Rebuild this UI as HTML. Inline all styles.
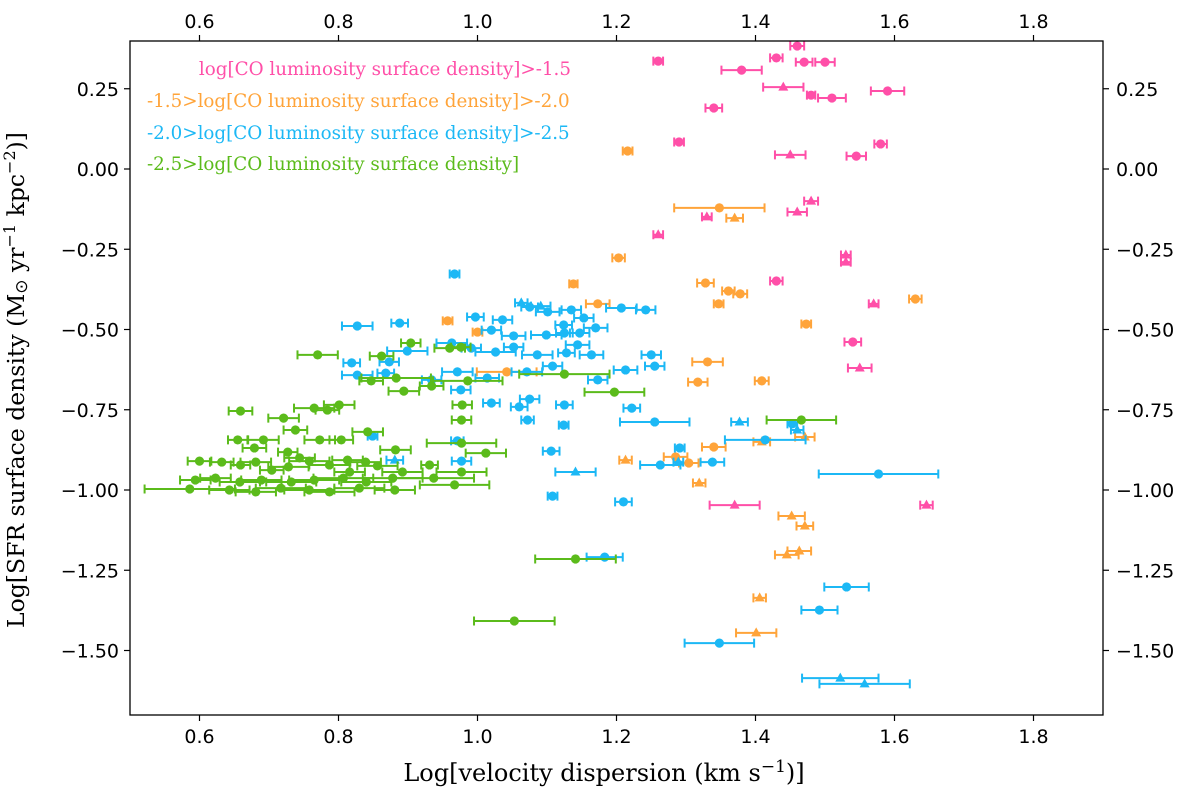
<!DOCTYPE html>
<html><head><meta charset="utf-8">
<style>
html,body{margin:0;padding:0;background:#fff;width:1200px;height:795px;overflow:hidden}
svg{display:block}
text{font-family:"DejaVu Sans","Liberation Sans",sans-serif}
.serif{font-family:"DejaVu Serif","Liberation Serif",serif}
</style></head>
<body>
<svg id="chart" width="1200" height="795" viewBox="0 0 1200 795" xmlns="http://www.w3.org/2000/svg">
<g id="marks"></g>
<rect x="130" y="41" width="973" height="674" fill="none" stroke="#000" stroke-width="1.3"/>
<g id="axes"></g>
<g class="serif" font-size="18.3">
<text x="571" y="75" text-anchor="end" fill="#ff4fa8" class="serif">log[CO luminosity surface density]&gt;-1.5</text>
<text x="147" y="107" fill="#ffa43a" class="serif">-1.5&gt;log[CO luminosity surface density]&gt;-2.0</text>
<text x="147" y="139" fill="#1cb8f5" class="serif">-2.0&gt;log[CO luminosity surface density]&gt;-2.5</text>
<text x="147" y="170" fill="#5bbb1b" class="serif">-2.5&gt;log[CO luminosity surface density]</text>
</g>
<text class="serif" x="604" y="781" font-size="24" text-anchor="middle">Log[velocity dispersion (km s<tspan dy="-9" font-size="17">−1</tspan><tspan dy="9">)]</tspan></text>
<text class="serif" transform="translate(24,380) rotate(-90)" font-size="23.5" text-anchor="middle">Log[SFR surface density (M<tspan font-family="DejaVu Sans" dy="3" font-size="17">⊙</tspan><tspan dy="-3"> yr</tspan><tspan dy="-9" font-size="16">−1</tspan><tspan dy="9"> kpc</tspan><tspan dy="-9" font-size="16">−2</tspan><tspan dy="9">)]</tspan></text>
</svg>
<script>
const xTicks=[0.6,0.8,1.0,1.2,1.4,1.6,1.8];
const yTicks=[0.25,0.00,-0.25,-0.50,-0.75,-1.00,-1.25,-1.50];
const xTickLabels=["0.6","0.8","1.0","1.2","1.4","1.6","1.8"];
const yTickLabels=["0.25","0.00","−0.25","−0.50","−0.75","−1.00","−1.25","−1.50"];

const pinkX=[1.46,1.26,1.43,1.47,1.50,1.38,1.44,1.48,1.51,1.59,1.34,1.29,1.58,1.45,1.545,1.48,1.33,1.46,1.26,1.53,1.53,1.43,1.57,1.54,1.55,1.646,1.37];
const pinkY=[0.383,0.336,0.346,0.333,0.333,0.308,0.255,0.23,0.221,0.243,0.19,0.084,0.078,0.044,0.04,-0.10,-0.149,-0.134,-0.205,-0.268,-0.29,-0.349,-0.42,-0.539,-0.62,-1.047,-1.047];
const pinkErr=[0.01,0.007,0.009,0.012,0.014,0.029,0.029,0.006,0.02,0.024,0.012,0.007,0.009,0.022,0.014,0.01,0.007,0.014,0.007,0.007,0.007,0.009,0.007,0.012,0.017,0.009,0.036];
const pinkMk="ccccccTccccccTcTTTTTTcTcTTT";

const orangeX=[1.216,1.348,1.37,1.203,1.138,1.328,1.361,1.378,1.347,1.173,1.63,0.957,1.0,1.473,1.331,1.042,1.317,1.409,1.471,1.34,1.409,1.213,1.304,1.285,1.319,1.452,1.471,1.445,1.463,1.406,1.401];
const orangeY=[0.056,-0.121,-0.153,-0.277,-0.358,-0.355,-0.38,-0.389,-0.42,-0.42,-0.405,-0.473,-0.508,-0.483,-0.601,-0.632,-0.664,-0.66,-0.835,-0.866,-0.85,-0.907,-0.916,-0.897,-0.978,-1.081,-1.112,-1.202,-1.19,-1.336,-1.445];
const orangeErr=[0.007,0.065,0.012,0.009,0.006,0.012,0.009,0.01,0.007,0.017,0.009,0.007,0.007,0.007,0.022,0.043,0.014,0.01,0.014,0.017,0.012,0.009,0.014,0.017,0.009,0.019,0.012,0.017,0.017,0.009,0.029];
const orangeMk="ccTcccccccccccccccTcTTccTTTTTTT";

const cyanX=[0.967,1.063,1.075,1.091,1.101,1.135,1.153,1.207,1.242,0.827,0.888,0.997,1.036,1.020,1.052,1.099,1.125,1.147,1.170,1.124,0.899,0.873,0.963,0.991,1.026,1.052,1.086,1.128,1.144,1.164,1.250,0.819,0.868,0.971,1.014,1.071,1.108,1.173,1.213,1.255,0.827,0.934,0.976,1.020,1.060,1.075,1.125,1.222,1.072,1.124,1.255,1.377,1.453,1.460,1.414,0.849,0.971,1.106,0.881,0.977,1.141,1.263,1.291,1.289,1.338,1.577,1.108,1.210,1.183,1.531,1.492,1.348,1.522,1.557];
const cyanY=[-0.327,-0.417,-0.430,-0.427,-0.445,-0.439,-0.464,-0.433,-0.439,-0.489,-0.480,-0.461,-0.470,-0.502,-0.520,-0.517,-0.511,-0.511,-0.495,-0.486,-0.567,-0.601,-0.542,-0.558,-0.570,-0.555,-0.579,-0.573,-0.548,-0.579,-0.579,-0.604,-0.636,-0.632,-0.651,-0.632,-0.614,-0.657,-0.626,-0.614,-0.642,-0.657,-0.688,-0.729,-0.741,-0.717,-0.735,-0.745,-0.782,-0.798,-0.788,-0.788,-0.794,-0.813,-0.844,-0.832,-0.847,-0.879,-0.907,-0.910,-0.944,-0.922,-0.869,-0.913,-0.913,-0.950,-1.019,-1.037,-1.209,-1.302,-1.374,-1.477,-1.586,-1.604];
const cyanErr=[0.007,0.009,0.012,0.014,0.017,0.014,0.014,0.022,0.014,0.022,0.012,0.012,0.014,0.014,0.017,0.022,0.012,0.014,0.017,0.012,0.029,0.014,0.022,0.014,0.029,0.014,0.022,0.012,0.017,0.017,0.014,0.012,0.012,0.022,0.017,0.022,0.014,0.014,0.017,0.014,0.022,0.014,0.014,0.012,0.012,0.014,0.012,0.012,0.009,0.007,0.05,0.012,0.007,0.009,0.058,0.007,0.009,0.012,0.012,0.014,0.029,0.029,0.007,0.007,0.017,0.086,0.007,0.012,0.026,0.032,0.026,0.05,0.055,0.065];
const cyanMk="cTcTcccccccccccccccccccccccccccccccccccccccccccccccTcTccccTcTccTccccccccTT";

const greenX=[0.770,0.862,0.904,0.960,0.976,0.847,0.894,0.934,0.883,0.978,0.977,0.659,0.801,0.784,0.765,0.721,0.986,1.125,1.197,1.466,0.655,0.692,0.738,0.773,0.804,0.842,0.882,0.977,1.012,0.931,0.600,0.632,0.659,0.681,0.704,0.728,0.758,0.787,0.813,0.839,0.856,0.892,0.594,0.623,0.658,0.689,0.732,0.765,0.807,0.840,0.878,0.937,0.977,0.586,0.643,0.681,0.717,0.758,0.787,0.830,0.881,0.967,0.816,0.744,0.727,0.679,1.141,1.053];
const greenY=[-0.579,-0.583,-0.542,-0.558,-0.555,-0.660,-0.692,-0.676,-0.651,-0.735,-0.782,-0.754,-0.735,-0.751,-0.745,-0.776,-0.660,-0.639,-0.695,-0.782,-0.844,-0.844,-0.813,-0.844,-0.844,-0.819,-0.875,-0.854,-0.885,-0.922,-0.910,-0.913,-0.922,-0.913,-0.938,-0.928,-0.910,-0.922,-0.907,-0.913,-0.925,-0.944,-0.969,-0.963,-0.975,-0.969,-0.975,-0.969,-0.963,-0.975,-0.963,-0.963,-0.944,-0.997,-1.0,-1.006,-0.994,-1.0,-1.006,-0.994,-1.0,-0.984,-0.944,-0.900,-0.882,-0.869,-1.215,-1.408];
const greenErr=[0.029,0.017,0.014,0.022,0.014,0.017,0.022,0.017,0.05,0.014,0.014,0.017,0.022,0.017,0.029,0.022,0.05,0.065,0.043,0.05,0.014,0.022,0.017,0.022,0.017,0.022,0.022,0.05,0.029,0.012,0.017,0.017,0.014,0.022,0.017,0.029,0.029,0.029,0.022,0.022,0.029,0.029,0.022,0.022,0.029,0.029,0.036,0.036,0.043,0.036,0.043,0.058,0.036,0.065,0.029,0.029,0.036,0.036,0.036,0.036,0.029,0.05,0.022,0.022,0.014,0.017,0.058,0.058];

const X0=130,X1=1103,Y0=41,Y1=715;
const xMin=0.5,xMax=0.5+(X1-X0)/695,yMax=(169-41)/321,yMin=(169-715)/321;
function sx(v){return X0+(v-xMin)/(xMax-xMin)*(X1-X0);}
function sy(v){return Y0+(yMax-v)/(yMax-yMin)*(Y1-Y0);}
const NS="http://www.w3.org/2000/svg";
function mk(tag,attrs,parent){const e=document.createElementNS(NS,tag);for(const k in attrs)e.setAttribute(k,attrs[k]);parent.appendChild(e);return e;}

const marks=document.getElementById('marks');
function drawSeries(name,xs,ys,es,mks,color){
  const g=mk('g',{},marks);
  
  
  for(let i=0;i<xs.length;i++){
    const cx=sx(xs[i]),cy=sy(ys[i]);
    const x1=sx(xs[i]-es[i]),x2=sx(xs[i]+es[i]);
    const eb=mk('path',{d:`M${x1},${cy}H${x2}M${x1},${cy-4.5}V${cy+4.5}M${x2},${cy-4.5}V${cy+4.5}`,stroke:color,'stroke-width':2,fill:'none'},g);
    
    
    const m=(mks&&mks[i]==='T')?'T':'c';
    let p;
    if(m==='T'){p=mk('path',{d:`M${cx},${cy-5.5}L${cx+5},${cy+3.5}L${cx-5},${cy+3.5}Z`,fill:color},g);}
    else{p=mk('circle',{cx:cx,cy:cy,r:4.6,fill:color},g);}
    
    
  }
}
drawSeries('pink',pinkX,pinkY,pinkErr,pinkMk,'#ff4fa8');
drawSeries('orange',orangeX,orangeY,orangeErr,orangeMk,'#ffa43a');
drawSeries('cyan',cyanX,cyanY,cyanErr,cyanMk,'#1cb8f5');
drawSeries('green',greenX,greenY,greenErr,null,'#5bbb1b');

const axes=document.getElementById('axes');
xTicks.forEach((t,i)=>{
  const x=sx(t);
  const a=mk('line',{x1:x,x2:x,y1:Y1,y2:Y1+6,stroke:'#000','stroke-width':1.2},axes);
  
  
  const b=mk('line',{x1:x,x2:x,y1:Y0,y2:Y0-6,stroke:'#000','stroke-width':1.2},axes);
  
  
  const l1=mk('text',{x:x,y:Y1+28,'text-anchor':'middle','font-size':19},axes);l1.textContent=xTickLabels[i];
  
  
  const l2=mk('text',{x:x,y:Y0-13,'text-anchor':'middle','font-size':19},axes);l2.textContent=xTickLabels[i];
  
  
});
yTicks.forEach((t,i)=>{
  const y=sy(t);
  const a=mk('line',{x1:X0,x2:X0-6,y1:y,y2:y,stroke:'#000','stroke-width':1.2},axes);
  
  
  const b=mk('line',{x1:X1,x2:X1+6,y1:y,y2:y,stroke:'#000','stroke-width':1.2},axes);
  
  
  const l1=mk('text',{x:X0-11,y:y+7,'text-anchor':'end','font-size':19},axes);l1.textContent=yTickLabels[i];
  
  
  const l2=mk('text',{x:X1+13,y:y+7,'text-anchor':'start','font-size':19},axes);l2.textContent=yTickLabels[i];
  
  
});
</script>
</body></html>
